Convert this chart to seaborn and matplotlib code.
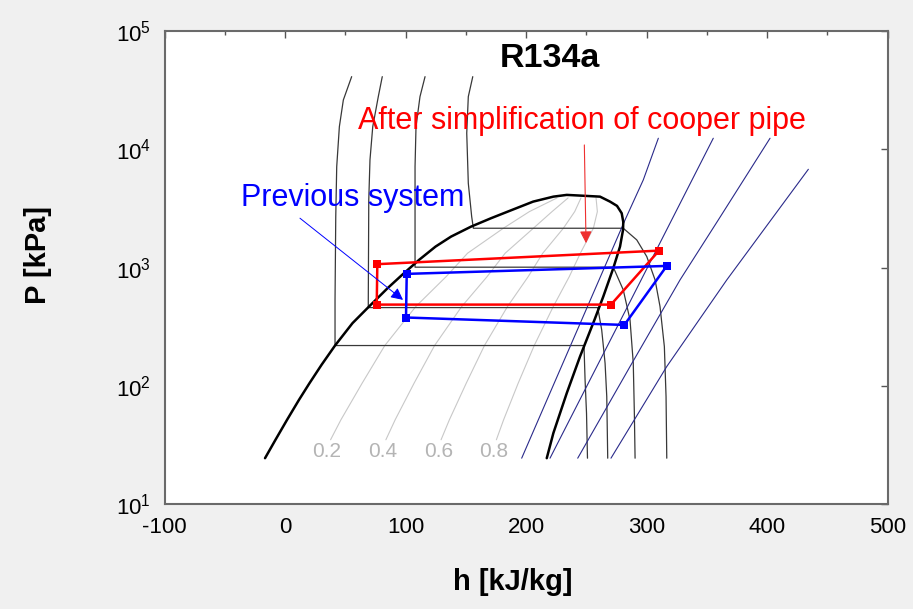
import numpy as np
import pandas as pd
import matplotlib
matplotlib.use('Agg')
import matplotlib.pyplot as plt
from matplotlib.ticker import MultipleLocator, LogLocator, NullLocator
import seaborn as sns

dome_h = [-16.6, -7.9, 1.7, 11.6, 20.3, 30.3, 41.5, 56.0, 69.7, 85.1, 97.1, 111.2,
          124.9, 137.8, 154.4, 171.0, 188.4, 205.9, 222.7, 233.8, 250.4, 261.4, 269.7,
          275.5, 279.4, 280.7, 280.5, 278.0, 272.4, 264.1, 256.8, 244.8, 233.8, 222.7,
          217.2]
dome_P = [24.6, 35.2, 51.9, 76.5, 105.7, 151, 219.8, 339.6, 468.8, 670, 867, 1161,
          1504, 1827, 2218, 2612, 3069, 3606, 3972, 4109, 4027, 3972, 3606,
          3319, 2877, 2430, 2080, 1504, 988, 569, 362, 177.4, 87.1, 40.1, 24.6]

# isotermas
isoA_h = [55.3, 48.4, 45.1, 42.9, 42.1, 41.5, 41.5, 248.1, 249.0, 250.2, 251.0]
isoA_P = [40930, 26020, 15490, 7117, 2693, 534, 219.8, 219.8, 112.8, 59.1, 24.6]
isoB_h = [80.7, 77.4, 72.8, 70.5, 69.5, 69.1, 69.1, 259.5, 262.8, 265.6, 267.0, 267.8]
isoB_P = [40930, 27740, 15490, 8110, 3726, 534, 459.6, 459.6, 297.9, 156, 81.5, 24.6]
isoC_h = [116.2, 112.0, 108.7, 107.9, 107.9, 272.4, 280.7, 286.3, 289.0, 289.9, 290.5]
isoC_P = [40930, 27740, 15490, 7117, 1008, 1008, 648, 362, 156, 59.1, 24.6]
isoD_h = [155.8, 152.1, 150.8, 152.1, 154.9, 156.3, 280.7, 291.9, 300.2, 307.1, 311.2,
          314.8, 316.2, 316.8]
isoD_P = [40930, 27740, 13620, 5155, 2693, 2149, 2149, 1713, 1239, 787, 469, 215.4,
          81.5, 24.6]

# lineas de calidad
qual_P = [35.2, 51.9, 105.7, 219.8, 468.8, 839, 1323, 2149, 2970, 3873]
q02_h = [37.8, 46.4, 64.0, 82.8, 108.5, 133.7, 151.5, 181.2, 202.8, 225.7]
q04_h = [83.7, 91.4, 107.1, 124.1, 146.6, 167.7, 182.7, 206.1, 221.6, 234.9]
q06_h = [129.5, 136.4, 150.4, 165.5, 184.6, 201.8, 213.9, 231.0, 240.4, 245.6]
q08_h = [175.4, 181.4, 193.5, 206.8, 222.6, 235.9, 245.1, 255.9, 259.2, 258.1]
qual_labels = ['0.2', '0.4', '0.6', '0.8']
qual_label_h = [34.6, 80.7, 127.2, 172.9]
qual_label_P = 27.8

# isentropas
s1_h = [309.8, 297.3, 282.2, 260.6, 239.0, 217.4, 196.4]
s1_P = [12360, 5495, 2529, 787, 245.5, 76.5, 24.6]
s2_h = [355.4, 320.9, 287.1, 253.1, 219.9]
s2_P = [12360, 2529, 534, 112.8, 24.6]
s3_h = [402.5, 359.6, 327.8, 286.3, 242.9]
s3_P = [12360, 2529, 787, 146, 24.6]
s4_h = [434.3, 366.6, 316.8, 270.5]
s4_P = [6761, 787, 146.2, 24.6]

# ciclos
red_h = [76.6, 76.1, 270.5, 310.4, 76.6]
red_P = [1069, 487, 487, 1391, 1069]
blue_h = [101.0, 100.4, 281.6, 316.8, 101.0]
blue_P = [885, 379, 328, 1033, 885]

sns.set_theme(style='white')
plt.rcParams['font.family'] = ['Liberation Sans', 'DejaVu Sans']
plt.rcParams['mathtext.fontset'] = 'custom'
plt.rcParams['mathtext.rm'] = 'Liberation Sans'
plt.rcParams['mathtext.it'] = 'Liberation Sans:italic'
plt.rcParams['mathtext.bf'] = 'Liberation Sans:bold'
plt.rcParams['axes.unicode_minus'] = False
plt.rcParams['text.color'] = 'black'
plt.rcParams['axes.labelcolor'] = 'black'


def to_df(curves):
    rows = []
    for name, hs, ps in curves:
        for i, (h, p) in enumerate(zip(hs, ps)):
            rows.append({'curve': name, 'i': i, 'h': h, 'P': p})
    return pd.DataFrame(rows)


iso_df = to_df([('A', isoA_h, isoA_P), ('B', isoB_h, isoB_P),
                ('C', isoC_h, isoC_P), ('D', isoD_h, isoD_P)])
qual_df = to_df([('0.2', q02_h, qual_P), ('0.4', q04_h, qual_P),
                 ('0.6', q06_h, qual_P), ('0.8', q08_h, qual_P)])
s_df = to_df([('s1', s1_h, s1_P), ('s2', s2_h, s2_P),
              ('s3', s3_h, s3_P), ('s4', s4_h, s4_P)])
dome_df = pd.DataFrame({'h': dome_h, 'P': dome_P})
red_df = pd.DataFrame({'h': red_h, 'P': red_P})
blue_df = pd.DataFrame({'h': blue_h, 'P': blue_P})

fig = plt.figure(figsize=(9.13, 6.09), dpi=100, facecolor='#f0f0f0')
ax = fig.add_axes([0.1802, 0.1716, 0.7919, 0.7780])
ax.set_facecolor('white')
ax.set_yscale('log')

sns.lineplot(data=qual_df, x='h', y='P', units='curve', estimator=None, sort=False,
             color='#c8c8c8', lw=0.8, ax=ax)
sns.lineplot(data=iso_df, x='h', y='P', units='curve', estimator=None, sort=False,
             color='#383838', lw=0.9, ax=ax)
sns.lineplot(data=s_df, x='h', y='P', units='curve', estimator=None, sort=False,
             color='#2a2a8a', lw=0.8, ax=ax)
sns.lineplot(data=dome_df, x='h', y='P', sort=False, estimator=None,
             color='black', lw=1.8, ax=ax)
sns.lineplot(data=red_df, x='h', y='P', sort=False, estimator=None, color='#ff0000',
             lw=1.8, marker='s', markersize=6, markeredgewidth=0, ax=ax)
sns.lineplot(data=blue_df, x='h', y='P', sort=False, estimator=None, color='#0000ff',
             lw=1.8, marker='s', markersize=6, markeredgewidth=0, ax=ax)

for lab, hx in zip(qual_labels, qual_label_h):
    ax.text(hx, qual_label_P, lab, color='#b4b4b4', fontsize=15,
            ha='center', va='center')

ax.text(220, 49650, 'R134a', fontsize=24.5, fontweight='bold', ha='center',
        va='baseline')
ax.text(246.5, 14720, 'After simplification of cooper pipe', color='#ff0000',
        fontsize=22, ha='center', va='baseline')
ax.text(56.4, 3319, 'Previous system', color='#0000ff', fontsize=22,
        ha='center', va='baseline')
ax.annotate('', xy=(249.8, 1607), xytext=(248.4, 10850),
            arrowprops=dict(arrowstyle='-|>', color='#ee3030', lw=0.8,
                            mutation_scale=18, shrinkA=0, shrinkB=0))
ax.annotate('', xy=(97.9, 534), xytext=(12.4, 2612),
            arrowprops=dict(arrowstyle='-|>', color='#0000ff', lw=0.7,
                            mutation_scale=18, shrinkA=0, shrinkB=0))

ax.set_xlim(-100, 500)
ax.set_ylim(10, 1e5)
ax.xaxis.set_major_locator(MultipleLocator(100))
ax.xaxis.set_minor_locator(MultipleLocator(50))
ax.yaxis.set_major_locator(LogLocator(base=10, numticks=10))
ax.yaxis.set_minor_locator(NullLocator())
ax.tick_params(which='both', direction='in', top=True, right=True, colors='#555555',
               labelcolor='black', labelsize=16)
ax.tick_params(which='major', length=5, width=1)
ax.tick_params(which='minor', length=3, width=1)
ax.tick_params(axis='x', pad=9)
ax.tick_params(axis='y', pad=10)
for sp in ax.spines.values():
    sp.set_color('#6a6a6a')
    sp.set_linewidth(1.5)

ax.set_xlabel('h [kJ/kg]', fontsize=21, fontweight='bold')
ax.set_ylabel('P [kPa]', fontsize=21, fontweight='bold')
ax.xaxis.set_label_coords(0.481, -0.135)
ax.yaxis.set_label_coords(-0.156, 0.527)

fig.savefig('out.png', dpi=100, facecolor=fig.get_facecolor())
